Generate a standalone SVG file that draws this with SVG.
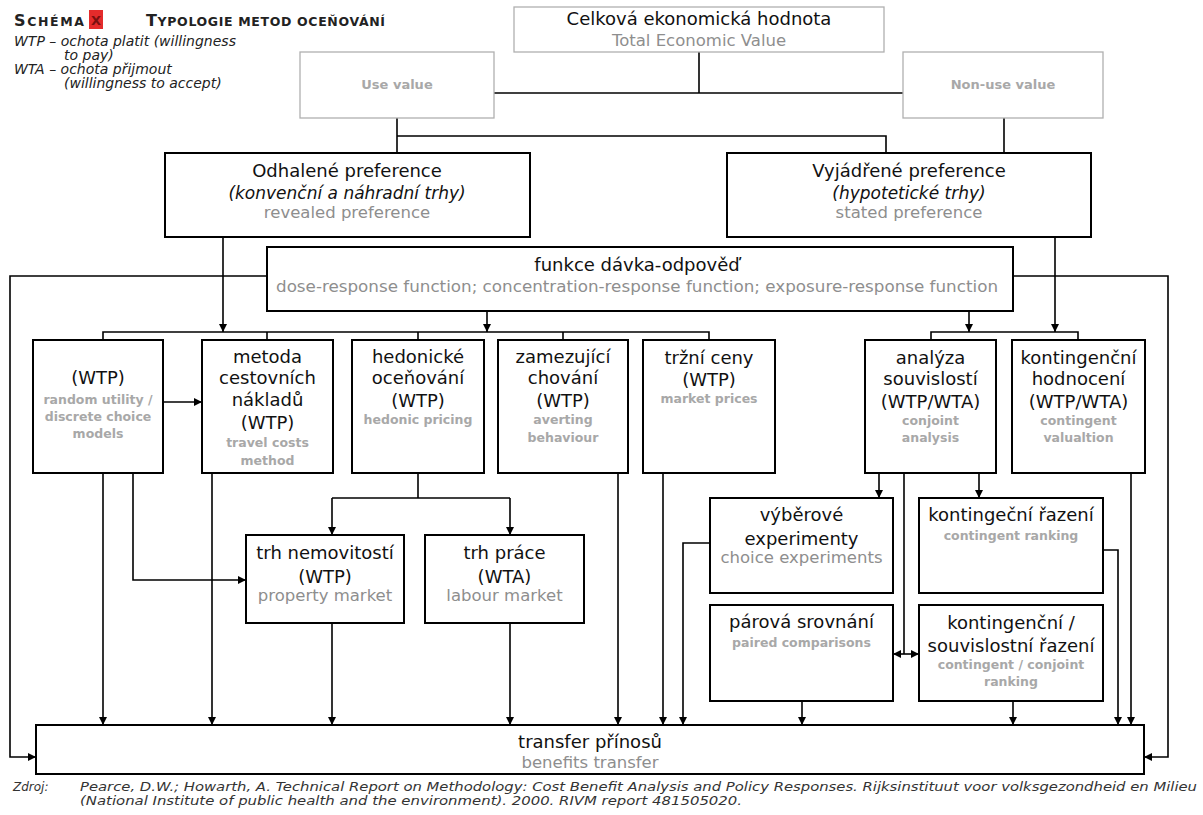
<svg xmlns="http://www.w3.org/2000/svg" width="1203" height="815" viewBox="0 0 1203 815">
<style>
.bx{fill:#fff;stroke:#000;stroke-width:2}
.gb{fill:#fff;stroke:#b0b0b0;stroke-width:1.3}
text{font-family:"DejaVu Sans","Liberation Sans",sans-serif;text-anchor:middle}
.t{font-size:18px;fill:#111}
.ti{font-size:17px;fill:#111;font-style:italic}
.g{font-size:16.5px;fill:#8e8e8e}
.s{font-size:12.5px;font-weight:bold;fill:#a8a8a8}
.h{font-size:12.5px;font-weight:bold;fill:#222;text-anchor:start}
.hb{font-size:16px}
.lg{font-size:14px;font-style:italic;fill:#222;text-anchor:start}
.ft{font-size:12px;font-style:italic;fill:#333;text-anchor:start}
.c path{stroke:#000;stroke-width:1.6;fill:none}
.c path.a{marker-end:url(#ah)}
</style>
<defs>
<marker id="ah" viewBox="0 0 10 10" refX="10" refY="5" markerWidth="8" markerHeight="8" markerUnits="userSpaceOnUse" orient="auto">
<path d="M0,0 L10,5 L0,10 z" fill="#000"/>
</marker>
</defs>
<rect width="1203" height="815" fill="#fff"/>

<g id="header">
<text class="h" x="14" y="26" textLength="70" lengthAdjust="spacing"><tspan class="hb">S</tspan>CHÉMA</text>
<rect x="89" y="10" width="14" height="19" fill="#e42b2b"/>
<text x="96" y="25" style="font-size:13px;font-weight:bold;fill:#7a1010">X</text>
<text class="h" x="146" y="26" textLength="239" lengthAdjust="spacing"><tspan class="hb">T</tspan>YPOLOGIE METOD OCEŇOVÁNÍ</text>
<text class="lg" x="14" y="46">WTP – ochota platit (willingness</text>
<text class="lg" x="64" y="60">to pay)</text>
<text class="lg" x="14" y="74">WTA – ochota přijmout</text>
<text class="lg" x="64" y="88">(willingness to accept)</text>
</g>

<g class="c" id="connectors">
<path d="M699,52 V93"/>
<path d="M494,93 H903"/>
<path d="M397,118 V153"/>
<path d="M397,136 H886 V153"/>
<path d="M1004,118 V153"/>
<path class="a" d="M267,276 H10 V757 H36"/>
<path class="a" d="M1013,276 H1168 V757 H1144"/>
<path class="a" d="M223,237 V332"/>
<path class="a" d="M487,311 V332"/>
<path class="a" d="M969,311 V332"/>
<path class="a" d="M1055,237 V332"/>
<path d="M103,340 V332 H709 V340"/>
<path d="M267,332 V340"/>
<path d="M418,332 V340"/>
<path d="M563,332 V340"/>
<path d="M931,340 V332 H1078 V340"/>
<path class="a" d="M103,473 V725"/>
<path class="a" d="M133,473 V580 H246"/>
<path class="a" d="M163,402 H202"/>
<path class="a" d="M212,473 V725"/>
<path d="M418,473 V498"/>
<path d="M332,498 H510"/>
<path class="a" d="M332,498 V535"/>
<path class="a" d="M510,498 V535"/>
<path class="a" d="M332,623 V725"/>
<path class="a" d="M510,623 V725"/>
<path class="a" d="M618,473 V725"/>
<path class="a" d="M663,473 V725"/>
<path class="a" d="M710,543 H683 V725"/>
<path class="a" d="M879,473 V498"/>
<path class="a" d="M979,473 V498"/>
<path d="M904,473 V654"/>
<path class="a" d="M904,654 H893"/>
<path class="a" d="M904,654 H919"/>
<path class="a" d="M1103,550 H1118 V725"/>
<path class="a" d="M1131,473 V725"/>
<path class="a" d="M802,701 V725"/>
<path class="a" d="M1013,701 V725"/>
</g>

<g id="tev">
<rect class="gb" x="514" y="7" width="370" height="45"/>
<text class="t" x="699" y="25">Celková ekonomická hodnota</text>
<text class="g" x="699" y="46">Total Economic Value</text>
</g>
<g id="use">
<rect class="gb" x="300" y="52" width="194" height="66"/>
<text class="s" x="397" y="89" style="font-size:13px">Use value</text>
</g>
<g id="nonuse">
<rect class="gb" x="903" y="52" width="200" height="66"/>
<text class="s" x="1003" y="89" style="font-size:13px">Non-use value</text>
</g>

<g id="revealed">
<rect class="bx" x="165" y="153" width="365" height="84"/>
<text class="t" x="347" y="177">Odhalené preference</text>
<text class="ti" x="347" y="199">(konvenční a náhradní trhy)</text>
<text class="g" x="347" y="218">revealed preference</text>
</g>
<g id="stated">
<rect class="bx" x="727" y="153" width="364" height="84"/>
<text class="t" x="909" y="177">Vyjádřené preference</text>
<text class="ti" x="909" y="199">(hypotetické trhy)</text>
<text class="g" x="909" y="218">stated preference</text>
</g>

<g id="dose">
<rect class="bx" x="267" y="247" width="746" height="64"/>
<text class="t" x="637" y="271">funkce dávka-odpověď</text>
<text class="g" x="637" y="292" textLength="722" lengthAdjust="spacingAndGlyphs">dose-response function; concentration-response function; exposure-response function</text>
</g>

<g id="rum">
<rect class="bx" x="33" y="340" width="130" height="133"/>
<text class="t" x="98" y="384">(WTP)</text>
<text class="s" x="98" y="404">random utility /</text>
<text class="s" x="98" y="421">discrete choice</text>
<text class="s" x="98" y="438">models</text>
</g>
<g id="travel">
<rect class="bx" x="202" y="340" width="131" height="133"/>
<text class="t" x="267.5" y="363">metoda</text>
<text class="t" x="267.5" y="384">cestovních</text>
<text class="t" x="267.5" y="406">nákladů</text>
<text class="t" x="267.5" y="429">(WTP)</text>
<text class="s" x="267.5" y="447">travel costs</text>
<text class="s" x="267.5" y="465">method</text>
</g>
<g id="hedonic">
<rect class="bx" x="352" y="340" width="132" height="133"/>
<text class="t" x="418" y="363">hedonické</text>
<text class="t" x="418" y="384">oceňování</text>
<text class="t" x="418" y="407">(WTP)</text>
<text class="s" x="418" y="424">hedonic pricing</text>
</g>
<g id="averting">
<rect class="bx" x="498" y="340" width="130" height="133"/>
<text class="t" x="563" y="363">zamezující</text>
<text class="t" x="563" y="384">chování</text>
<text class="t" x="563" y="407">(WTP)</text>
<text class="s" x="563" y="424">averting</text>
<text class="s" x="563" y="442">behaviour</text>
</g>
<g id="market">
<rect class="bx" x="643" y="340" width="132" height="133"/>
<text class="t" x="709" y="364">tržní ceny</text>
<text class="t" x="709" y="386">(WTP)</text>
<text class="s" x="709" y="403">market prices</text>
</g>
<g id="conjoint">
<rect class="bx" x="865" y="340" width="131" height="133"/>
<text class="t" x="930.5" y="364">analýza</text>
<text class="t" x="930.5" y="385">souvislostí</text>
<text class="t" x="930.5" y="408">(WTP/WTA)</text>
<text class="s" x="930.5" y="425">conjoint</text>
<text class="s" x="930.5" y="442">analysis</text>
</g>
<g id="contingent">
<rect class="bx" x="1012" y="340" width="133" height="133"/>
<text class="t" x="1078.5" y="364">kontingenční</text>
<text class="t" x="1078.5" y="385">hodnocení</text>
<text class="t" x="1078.5" y="408">(WTP/WTA)</text>
<text class="s" x="1078.5" y="425">contingent</text>
<text class="s" x="1078.5" y="442">valualtion</text>
</g>

<g id="property">
<rect class="bx" x="246" y="535" width="158" height="88"/>
<text class="t" x="325" y="559">trh nemovitostí</text>
<text class="t" x="325" y="583">(WTP)</text>
<text class="g" x="325" y="601">property market</text>
</g>
<g id="labour">
<rect class="bx" x="425" y="535" width="159" height="88"/>
<text class="t" x="504.5" y="559">trh práce</text>
<text class="t" x="504.5" y="583">(WTA)</text>
<text class="g" x="504.5" y="601">labour market</text>
</g>
<g id="choice">
<rect class="bx" x="710" y="498" width="183" height="95"/>
<text class="t" x="801.5" y="521">výběrové</text>
<text class="t" x="801.5" y="545">experimenty</text>
<text class="g" x="801.5" y="563">choice experiments</text>
</g>
<g id="ranking">
<rect class="bx" x="919" y="498" width="184" height="95"/>
<text class="t" x="1011" y="521">kontingeční řazení</text>
<text class="s" x="1011" y="540">contingent ranking</text>
</g>
<g id="paired">
<rect class="bx" x="710" y="605" width="183" height="96"/>
<text class="t" x="801.5" y="628">párová srovnání</text>
<text class="s" x="801.5" y="647">paired comparisons</text>
</g>
<g id="cjranking">
<rect class="bx" x="919" y="605" width="184" height="96"/>
<text class="t" x="1011" y="629">kontingenční /</text>
<text class="t" x="1011" y="652">souvislostní řazení</text>
<text class="s" x="1011" y="669">contingent / conjoint</text>
<text class="s" x="1011" y="686">ranking</text>
</g>

<g id="transfer">
<rect class="bx" x="36" y="725" width="1108" height="49"/>
<text class="t" x="590" y="748">transfer přínosů</text>
<text class="g" x="590" y="768">benefits transfer</text>
</g>

<g id="source">
<text class="ft" x="13" y="791">Zdroj:</text>
<text class="ft" x="80" y="791" textLength="1117" lengthAdjust="spacingAndGlyphs">Pearce, D.W.; Howarth, A. Technical Report on Methodology: Cost Benefit Analysis and Policy Responses. Rijksinstituut voor volksgezondheid en Milieu</text>
<text class="ft" x="80" y="805" textLength="662" lengthAdjust="spacingAndGlyphs">(National Institute of public health and the environment). 2000. RIVM report 481505020.</text>
</g>
</svg>
